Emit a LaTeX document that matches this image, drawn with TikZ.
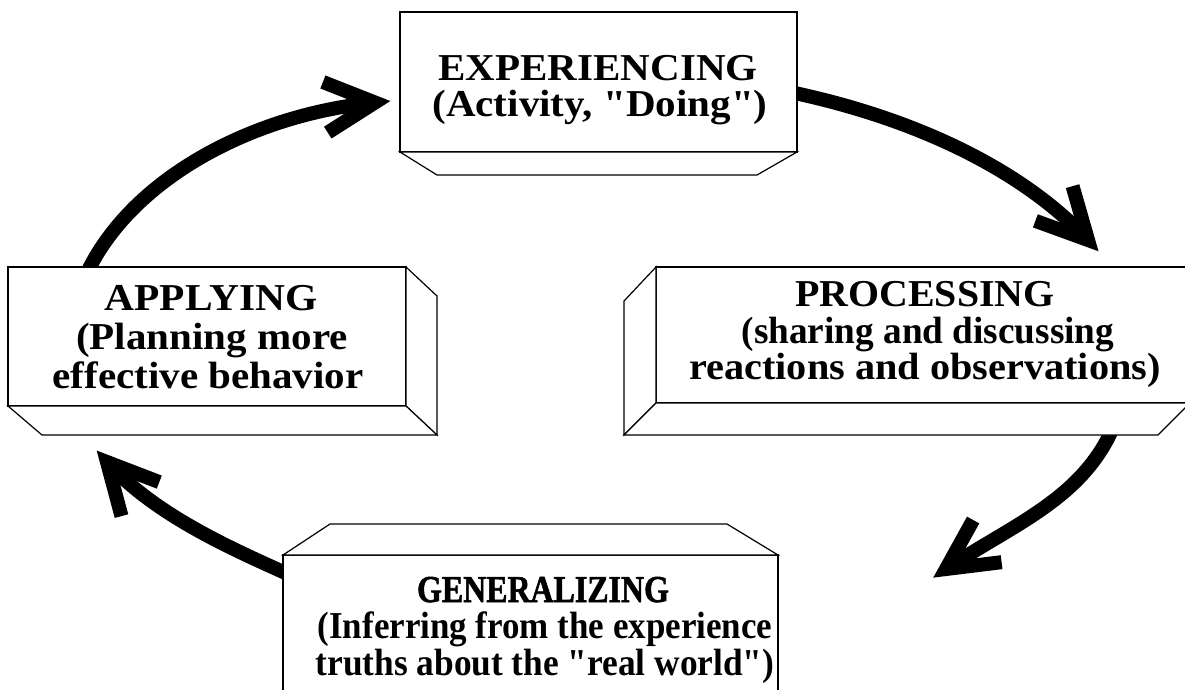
\documentclass[tikz,border=0pt]{standalone}
\usepackage{fontspec}
% straight double quotes are printed as typed
\setmainfont{Liberation Serif}[Ligatures=TeXOff]
\usetikzlibrary{calc}

% one text line, widened or narrowed horizontally
\newcommand\stretchline[2]{\scalebox{#1}[1]{#2}}
% open chevron head: vertex coordinate, forward direction (degrees)
\newcommand\chevronhead[2]{%
  \draw[headline] ($(#1)+(#2+153:56)$) -- (#1) -- ($(#1)+(#2-153:56)$);}

\begin{document}
\begin{tikzpicture}[x=1pt,y=-1pt,
  face/.style={draw=black, line width=1.2pt, fill=white, line join=miter},
  cycleline/.style={draw=black, line width=14pt},
  headline/.style={draw=black, line width=14pt, line join=miter, miter limit=20},
  boxlabel/.style={anchor=base, inner sep=0pt,
    font=\fontsize{38}{40}\selectfont\bfseries}]
\clip (0,0) rectangle (1185,689);

% ---------- cycle arrows ----------
\coordinate (expout)  at (790,92);
\coordinate (prochead) at (1088,240);
\coordinate (procout) at (1112,430);
\coordinate (genhead) at (946,569);
\coordinate (genout)  at (290,575);
\coordinate (apphead) at (107,462);
\coordinate (appout)  at (86,275);
\coordinate (exphead) at (375,102.5);

\draw[cycleline] (expout) .. controls (900,115) and (1015,162) .. (prochead);
\chevronhead{prochead}{47}
\draw[cycleline] (procout) .. controls (1080,500) and (1012,525) .. (genhead);
\chevronhead{genhead}{146}
\draw[cycleline] (genout) .. controls (230,548) and (155,515) .. (apphead);
\chevronhead{apphead}{228}
\draw[cycleline] (appout) .. controls (130,180) and (250,115) .. (exphead);
\chevronhead{exphead}{-5.5}

% ---------- EXPERIENCING slab (bevel below) ----------
\draw[face] (400,12) rectangle (797,152);
\draw[face] (400,152) -- (437,175) -- (757,175) -- (797,152) -- cycle;
\node[boxlabel] (exp1) at (598,80)  {\stretchline{1.08}{EXPERIENCING}};
\node[boxlabel] (exp2) at (600,116) {\stretchline{1.08}{(Activity, "Doing")}};

% ---------- APPLYING slab (depth to the right and below) ----------
\draw[face] (8,267) rectangle (406,406);
\draw[face] (406,267) -- (437,296) -- (437,435) -- (406,406) -- cycle;
\draw[face] (8,406) -- (42,435) -- (437,435) -- (406,406) -- cycle;
\node[boxlabel] (app1) at (211,310) {\stretchline{1.09}{APPLYING}};
\node[boxlabel] (app2) at (212,349) {\stretchline{1.08}{(Planning more}};
\node[boxlabel] (app3) at (208,388) {\stretchline{1.08}{effective behavior}};

% ---------- PROCESSING slab (depth to the left and below) ----------
\draw[face] (656,267) rectangle (1190,403);
\draw[face] (656,267) -- (624,301) -- (624,435) -- (656,403) -- cycle;
\draw[face] (624,435) -- (1158,435) -- (1190,403) -- (656,403) -- cycle;
\node[boxlabel] (proc1) at (925,306) {\stretchline{1.05}{PROCESSING}};
\node[boxlabel] (proc2) at (928,343) {\stretchline{0.98}{(sharing and discussing}};
\node[boxlabel] (proc3) at (925,379) {\stretchline{1.06}{reactions and observations)}};

% ---------- GENERALIZING slab (bevel above) ----------
\draw[face] (283,555) rectangle (778,700);
\draw[face] (283,555) -- (330,524) -- (727,524) -- (778,555) -- cycle;
\node[boxlabel] (gen1) at (543,602)
  {\stretchline{0.84}{\addfontfeature{FakeBold=1.6}GENERALIZING}};
\node[boxlabel] (gen2) at (545,638) {\stretchline{0.92}{(Inferring from the experience}};
\node[boxlabel] (gen3) at (545,675) {\stretchline{0.93}{truths about the "real world")}};
\end{tikzpicture}
\end{document}
